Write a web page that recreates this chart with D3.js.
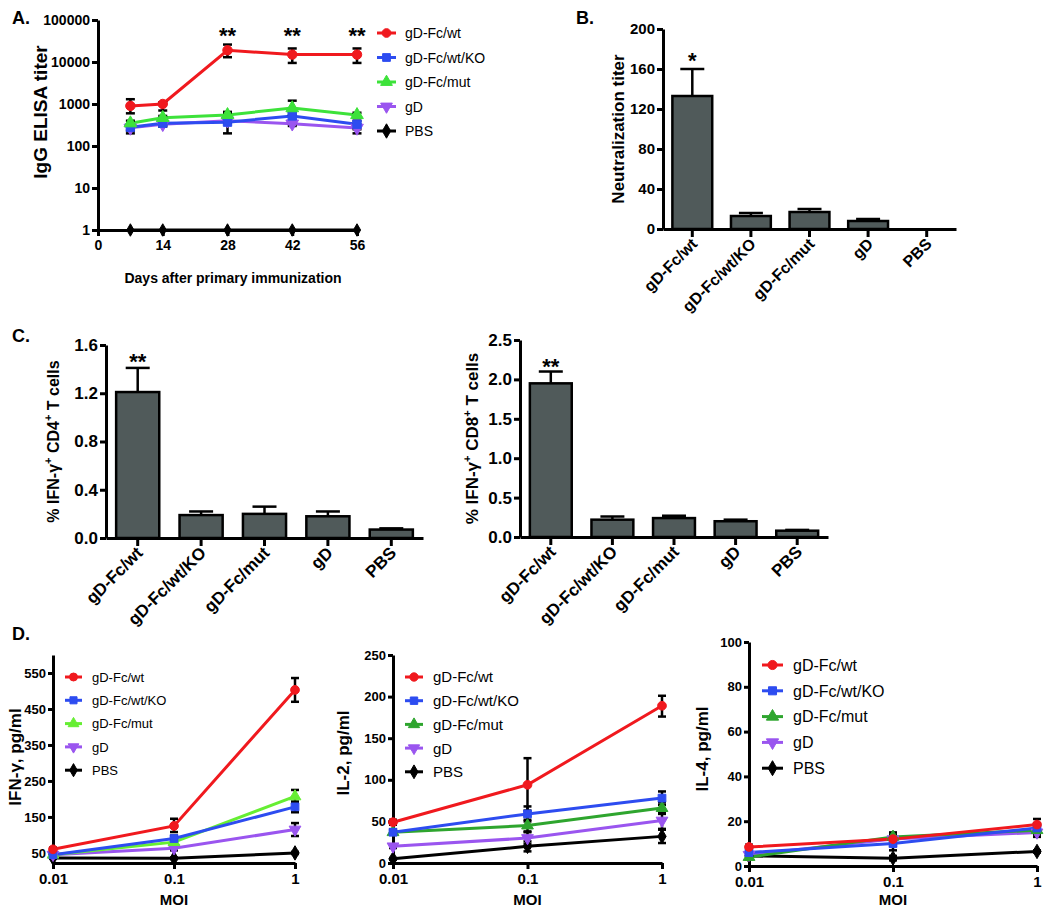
<!DOCTYPE html>
<html><head><meta charset="utf-8">
<script src="https://cdn.jsdelivr.net/npm/d3@7"></script>
<style>body{margin:0;background:#fff}svg{display:block}</style>
</head><body><svg id="c" width="1050" height="923"></svg>
<script>
const FONT = '"Liberation Sans", Arial, Helvetica, sans-serif';
const groups = ["gD-Fc/wt","gD-Fc/wt/KO","gD-Fc/mut","gD","PBS"];

// ---- Panel A: IgG ELISA titer over days ----
const aDays = [7,14,28,42,56];
const aXTicks = [0,14,28,42,56];
const aYTicks = [1,10,100,1000,10000,100000];
const aWt    = [900,1000,19000,15000,15000];
const aWtLo  = [600,700,13000,9500,9500];
const aWtHi  = [1300,1100,26000,21000,21000];
const aKO    = [280,350,370,520,330];
const aKOLo  = [230,300,200,400,250];
const aKOHi  = [330,400,600,650,400];
const aMut   = [350,470,550,800,550];
const aMutLo = [300,420,450,550,480];
const aMutHi = [400,520,650,1200,620];
const aGD    = [270,330,400,340,270];
const aGDLo  = [200,290,350,300,200];
const aGDHi  = [330,380,450,380,330];
const aPBS   = [1,1,1,1,1];
const aStarDays = [28,42,56];

// ---- Panel B: neutralization titer ----
const bVals = [133,13,17,8,0];
const bHi   = [160,16,20,10,0];
const bTicks = [0,40,80,120,160,200];

// ---- Panel C: IFN-gamma+ T cells ----
const c4Vals = [1.21,0.19,0.20,0.18,0.07];
const c4Hi   = [1.41,0.22,0.26,0.22,0.08];
const c4Ticks = [0,0.4,0.8,1.2,1.6];
const c8Vals = [1.95,0.22,0.24,0.20,0.08];
const c8Hi   = [2.10,0.26,0.27,0.22,0.09];
const c8Ticks = [0,0.5,1.0,1.5,2.0,2.5];

// ---- Panel D: cytokines vs MOI ----
const moi = [0.01,0.1,1];
const moiTicks = [0.01,0.1,1];
const ifnWt = [60,125,503],  ifnWtLo = [55,108,470], ifnWtHi = [65,145,536];
const ifnKO = [45,90,178],   ifnKOLo = [40,82,163],  ifnKOHi = [50,98,193];
const ifnMut = [45,80,207],  ifnMutLo = [40,74,190], ifnMutHi = [50,86,225];
const ifnGD = [45,63,115],   ifnGDLo = [40,57,97],   ifnGDHi = [50,69,133];
const ifnPBS = [36,35,50],   ifnPBSLo = [34,33,47],  ifnPBSHi = [38,37,53];
const ifnTicks = [50,150,250,350,450,550];

const il2Wt = [49,94,189],  il2WtLo = [46,63,176], il2WtHi = [52,126,201];
const il2KO = [37,59,78],   il2KOLo = [34,50,70],  il2KOHi = [40,68,86];
const il2Mut = [37,45,66],  il2MutLo = [34,38,59], il2MutHi = [40,52,73];
const il2GD = [20,30,51],   il2GDLo = [18,23,41],  il2GDHi = [22,37,61];
const il2PBS = [5,20,32],   il2PBSLo = [4,14,24],  il2PBSHi = [6,26,40];
const il2Ticks = [0,50,100,150,200,250];

const il4Wt = [8.5,12,18.5], il4WtLo = [7.5,10,16], il4WtHi = [9.5,14,21];
const il4KO = [6,10,17],     il4KOLo = [5,7,15],    il4KOHi = [7,13,19];
const il4Mut = [4,13,16],    il4MutLo = [3,10,14],  il4MutHi = [5,15,18];
const il4GD = [5,12,15],     il4GDLo = [4,9,13],    il4GDHi = [6,14,17];
const il4PBS = [4.5,3.5,6.5],il4PBSLo = [4,2.5,6],  il4PBSHi = [5,4.5,7];
const il4Ticks = [0,20,40,60,80,100];

const shapes = ["circle","square","up","down","diamond"];

const svg = d3.select("#c");

function symbolPath(shape, size){
  const t = {circle:d3.symbolCircle, square:d3.symbolSquare, up:d3.symbolTriangle, down:d3.symbolTriangle, diamond:d3.symbolDiamond}[shape];
  return d3.symbol().type(t).size(size)();
}
function drawMarker(g, shape, x, y, size, color){
  g.append("path").attr("d", symbolPath(shape,size))
    .attr("transform", `translate(${x},${y})` + (shape==="down" ? " rotate(180)" : ""))
    .attr("fill", color).attr("stroke", color).attr("stroke-width",1);
}
function styleAxis(g, fs){
  g.attr("font-family", FONT);
  g.select(".domain").attr("stroke","#000").attr("stroke-width",3);
  g.selectAll(".tick line").attr("stroke","#000").attr("stroke-width",3);
  g.selectAll(".tick text").attr("fill","#000").attr("font-weight","bold").attr("font-size",fs);
}
function text(x,y,s,opt={}){
  const t = svg.append("text").attr("x",x).attr("y",y).attr("font-family",FONT)
    .attr("font-size",opt.size||14).attr("font-weight",opt.weight||"bold")
    .attr("text-anchor",opt.anchor||"middle").attr("fill","#000").text(s);
  if(opt.rotate) t.attr("transform",`rotate(${opt.rotate},${x},${y})`);
  return t;
}
function errBar(g, x, yLo, yHi, cap){
  g.append("line").attr("x1",x).attr("x2",x).attr("y1",yLo).attr("y2",yHi).attr("stroke","#000").attr("stroke-width",2.5);
  [yLo,yHi].forEach(yy=>g.append("line").attr("x1",x-cap/2).attr("x2",x+cap/2).attr("y1",yy).attr("y2",yy).attr("stroke","#000").attr("stroke-width",2.5));
}

// Panel letters
text(12,24,"A.",{anchor:"start",size:18});
text(576,24,"B.",{anchor:"start",size:18});
text(12,342,"C.",{anchor:"start",size:18});
text(12,640,"D.",{anchor:"start",size:18});

// ---------- Panel A ----------
(function(){
  const x = d3.scaleLinear().domain([0,56]).range([98,357]);
  const y = d3.scaleLog().domain([1,100000]).range([230,20]);
  const gx = svg.append("g").attr("transform","translate(0,230)")
    .call(d3.axisBottom(x).tickValues(aXTicks).tickFormat(d3.format("d")).tickSize(6).tickSizeOuter(0).tickPadding(4));
  styleAxis(gx,14);
  const gy = svg.append("g").attr("transform","translate(98,0)")
    .call(d3.axisLeft(y).tickValues(aYTicks).tickFormat(d3.format("d")).tickSize(6).tickSizeOuter(0).tickPadding(2));
  styleAxis(gy,14);
  text(47,112,"IgG ELISA titer",{rotate:-90,size:19});
  text(233,283,"Days after primary immunization",{size:14});
  const series = [
    {v:aWt,lo:aWtLo,hi:aWtHi,c:"#f0191e"},
    {v:aKO,lo:aKOLo,hi:aKOHi,c:"#2d4cf0"},
    {v:aMut,lo:aMutLo,hi:aMutHi,c:"#3de23a"},
    {v:aGD,lo:aGDLo,hi:aGDHi,c:"#9a55ef"},
    {v:aPBS,lo:aPBS,hi:aPBS,c:"#000"}
  ];
  const g = svg.append("g");
  const line = d3.line().x((d,i)=>x(aDays[i])).y(d=>y(d));
  [3,1,2,0,4].forEach(k=>{
    const s = series[k];
    g.append("path").attr("d",line(s.v)).attr("fill","none").attr("stroke",s.c).attr("stroke-width",3);
  });
  series.forEach((s,k)=>{ if(k<4) s.v.forEach((d,i)=>errBar(g,x(aDays[i]),y(s.lo[i]),y(s.hi[i]),9)); });
  [3,1,2,0,4].forEach(k=>{
    const s = series[k];
    s.v.forEach((d,i)=>drawMarker(g,shapes[k],x(aDays[i]),y(d),k===4?45:70,s.c));
  });
  aStarDays.forEach(d=>text(x(d),43,"**",{size:22}));
  // legend
  groups.forEach((n,i)=>{
    const yy = 33 + i*24.5;
    g.append("line").attr("x1",377).attr("x2",396).attr("y1",yy).attr("y2",yy).attr("stroke",series[i].c).attr("stroke-width",3);
    drawMarker(g,shapes[i],386.5,yy,60,series[i].c);
    text(405,yy+5,n,{anchor:"start",weight:"normal",size:14});
  });
})();

// ---------- Bar panels ----------
function barPanel(o){
  const x = d3.scaleBand().domain(groups).range([o.x0,o.x1]).paddingInner(0.32).paddingOuter(0.16);
  const y = d3.scaleLinear().domain(o.dom).range([o.y0,o.y1]);
  const g = svg.append("g");
  groups.forEach((n,i)=>{
    const cx = x(n)+x.bandwidth()/2;
    if(o.hi[i]>o.vals[i]){
      g.append("line").attr("x1",cx).attr("x2",cx).attr("y1",y(o.vals[i])).attr("y2",y(o.hi[i])).attr("stroke","#000").attr("stroke-width",2.5);
      g.append("line").attr("x1",cx-12).attr("x2",cx+12).attr("y1",y(o.hi[i])).attr("y2",y(o.hi[i])).attr("stroke","#000").attr("stroke-width",2.5);
    }
    if(o.vals[i]>0){
      g.append("rect").attr("x",x(n)).attr("width",x.bandwidth()).attr("y",y(o.vals[i])).attr("height",y(0)-y(o.vals[i]))
        .attr("fill","#505a5a").attr("stroke","#000").attr("stroke-width",2.5);
    }
  });
  const gx = svg.append("g").attr("transform",`translate(0,${o.y0})`)
    .call(d3.axisBottom(x).tickSize(8).tickSizeOuter(0).tickFormat(""));
  styleAxis(gx,14);
  gx.selectAll(".tick text").remove();
  groups.forEach(n=>{
    const cx = x(n)+x.bandwidth()/2;
    text(cx+o.lx, o.y0+o.ly, n, {anchor:"end",rotate:-45,size:o.lfs||14});
  });
  const gy = svg.append("g").attr("transform",`translate(${o.x0},0)`)
    .call(d3.axisLeft(y).tickValues(o.ticks).tickFormat(o.fmt).tickSize(6).tickSizeOuter(0).tickPadding(2));
  styleAxis(gy,o.tfs||15);
  const tl = text(o.tx,(o.y0+o.y1)/2,"",{rotate:-90,size:o.tsize||15});
  o.title(tl);
  const cx0 = x(groups[0])+x.bandwidth()/2;
  text(cx0,o.starY,o.star,{size:22});
}

barPanel({x0:663,x1:956,y0:229,y1:29,dom:[0,200],ticks:bTicks,fmt:d3.format("d"),vals:bVals,hi:bHi,
  tx:624,tsize:17,title:t=>t.text("Neutralization titer"),star:"*",starY:68,lx:6,ly:16,tfs:15,lfs:16});

function cd(t,n){
  t.append("tspan").text("% IFN-\u03b3");
  t.append("tspan").attr("dy",-7).attr("font-size",11).text("+");
  t.append("tspan").attr("dy",7).text(" CD"+n);
  t.append("tspan").attr("dy",-7).attr("font-size",11).text("+");
  t.append("tspan").attr("dy",7).text(" T cells");
}
barPanel({x0:106,x1:423,y0:538,y1:345,dom:[0,1.6],ticks:c4Ticks,fmt:d3.format(".1f"),vals:c4Vals,hi:c4Hi,
  tx:59,tsize:16,title:t=>cd(t,4),star:"**",starY:369,lx:6,ly:16,tfs:17,lfs:17});
barPanel({x0:520,x1:828,y0:537,y1:340,dom:[0,2.5],ticks:c8Ticks,fmt:d3.format(".1f"),vals:c8Vals,hi:c8Hi,
  tx:478,tsize:17,title:t=>cd(t,8),star:"**",starY:374,lx:6,ly:16,tfs:17,lfs:17});

// ---------- D line panels ----------
function linePanel(o){
  const x = d3.scaleLog().domain([0.01,1]).range([o.x0,o.x1]);
  const y = d3.scaleLinear().domain(o.dom).range([o.y0,o.y1]);
  const gx = svg.append("g").attr("transform",`translate(0,${o.y0})`)
    .call(d3.axisBottom(x).tickValues(moiTicks).tickFormat(d=>String(d)).tickSize(6).tickSizeOuter(0).tickPadding(4));
  styleAxis(gx,15);
  const gy = svg.append("g").attr("transform",`translate(${o.x0},0)`)
    .call(d3.axisLeft(y).tickValues(o.ticks).tickFormat(d3.format("d")).tickSize(5).tickSizeOuter(0).tickPadding(2));
  styleAxis(gy,13);
  text(o.tx,o.ty,o.title,{rotate:-90,size:17});
  text((o.x0+o.x1)/2,905,"MOI",{size:15});
  const g = svg.append("g");
  const line = d3.line().x((d,i)=>x(moi[i])).y(d=>y(d));
  const order=[4,3,2,1,0];
  order.forEach(k=>{const s=o.series[k];
    g.append("path").attr("d",line(s.v)).attr("fill","none").attr("stroke",o.colors[k]).attr("stroke-width",3);});
  o.series.forEach(s=>s.v.forEach((d,i)=>errBar(g,x(moi[i]),y(s.lo[i]),y(s.hi[i]),8)));
  order.forEach(k=>{const s=o.series[k];
    s.v.forEach((d,i)=>drawMarker(g,shapes[k],x(moi[i]),y(d),60,o.colors[k]));});
  groups.forEach((n,i)=>{
    const yy = o.ly0 + i*o.lstep;
    g.append("line").attr("x1",o.lx).attr("x2",o.lx+o.lw).attr("y1",yy).attr("y2",yy).attr("stroke",o.colors[i]).attr("stroke-width",3);
    drawMarker(g,shapes[i],o.lx+o.lw/2,yy,o.ms,o.colors[i]);
    text(o.lx+o.lw+10,yy+o.lfs*0.36,n,{anchor:"start",weight:"normal",size:o.lfs});
  });
}
const colD1 = ["#f0191e","#2d4cf0","#66ee33","#9a55ef","#000"];
const colD2 = ["#f0191e","#2d4cf0","#2ea52e","#9a55ef","#000"];
linePanel({x0:53,x1:295,y0:863,y1:655,dom:[22,600],ticks:ifnTicks,title:"IFN-\u03b3,  pg/ml",tx:21,ty:757,colors:colD1,
  series:[{v:ifnWt,lo:ifnWtLo,hi:ifnWtHi},{v:ifnKO,lo:ifnKOLo,hi:ifnKOHi},{v:ifnMut,lo:ifnMutLo,hi:ifnMutHi},{v:ifnGD,lo:ifnGDLo,hi:ifnGDHi},{v:ifnPBS,lo:ifnPBSLo,hi:ifnPBSHi}],
  lx:65,lw:17,ly0:677,lstep:23.3,lfs:13,ms:50});
linePanel({x0:393,x1:662,y0:863,y1:655,dom:[0,250],ticks:il2Ticks,title:"IL-2,  pg/ml",tx:349,ty:753,colors:colD2,
  series:[{v:il2Wt,lo:il2WtLo,hi:il2WtHi},{v:il2KO,lo:il2KOLo,hi:il2KOHi},{v:il2Mut,lo:il2MutLo,hi:il2MutHi},{v:il2GD,lo:il2GDLo,hi:il2GDHi},{v:il2PBS,lo:il2PBSLo,hi:il2PBSHi}],
  lx:405,lw:18,ly0:677,lstep:23.7,lfs:15,ms:55});
linePanel({x0:749,x1:1037,y0:866,y1:642,dom:[0,100],ticks:il4Ticks,title:"IL-4,  pg/ml",tx:708,ty:749,colors:colD2,
  series:[{v:il4Wt,lo:il4WtLo,hi:il4WtHi},{v:il4KO,lo:il4KOLo,hi:il4KOHi},{v:il4Mut,lo:il4MutLo,hi:il4MutHi},{v:il4GD,lo:il4GDLo,hi:il4GDHi},{v:il4PBS,lo:il4PBSLo,hi:il4PBSHi}],
  lx:762,lw:21,ly0:665,lstep:25.8,lfs:16,ms:65});
</script></body></html>
